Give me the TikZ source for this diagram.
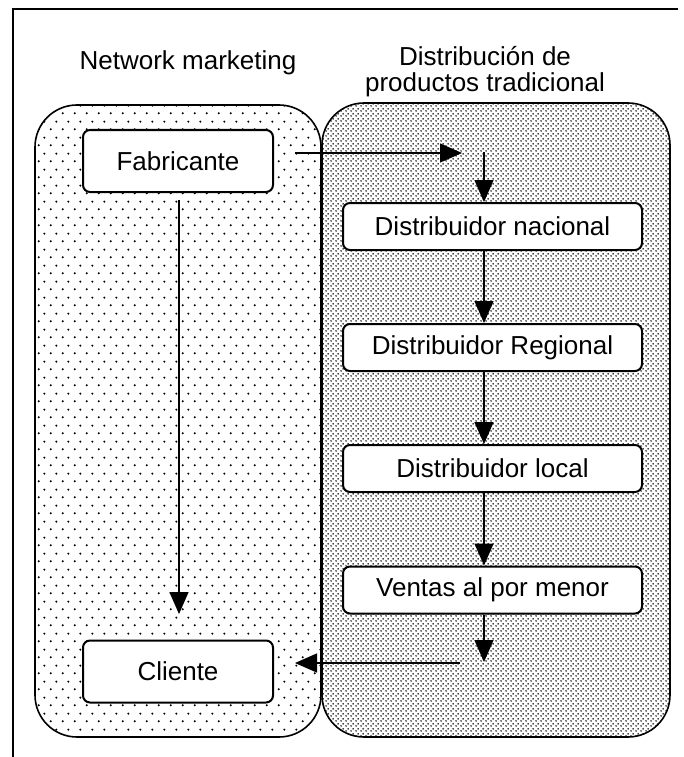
\documentclass[tikz,border=0pt]{standalone}
\usepackage{fontspec}
\setmainfont{Liberation Sans}
\usetikzlibrary{arrows.meta,patterns.meta}
\tikzdeclarepattern{
  name=sparsedots,
  type=uncolored,
  bounding box={(0pt,0pt) and (12pt,16pt)},
  tile size={(12pt,16pt)},
  code={\fill (3pt,4pt) circle (1.2pt); \fill (9pt,12pt) circle (1.2pt);}
}
\tikzdeclarepattern{
  name=densedots,
  type=uncolored,
  bounding box={(0pt,0pt) and (5pt,5pt)},
  tile size={(5pt,5pt)},
  code={\fill (1.25pt,1.25pt) circle (1pt); \fill (3.75pt,3.75pt) circle (1pt);}
}
\tikzset{
  region/.style={draw=black, line width=1.6pt, rounded corners=42pt, preaction={fill=white}},
  boxnode/.style={draw=black, fill=white, line width=2pt, rounded corners=7pt, inner sep=0pt,
    font=\fontsize{26}{30}\selectfont},
  titlenode/.style={font=\fontsize{26}{30}\selectfont, inner sep=0pt, anchor=base},
  arr/.style={line width=1.5pt, -{Triangle[length=22pt,width=19pt]}},
}
\begin{document}
\begin{tikzpicture}[x=1pt,y=-1pt]
\useasboundingbox (0,0) rectangle (684,757);
% frame
\draw[line width=1.5pt] (13,757) -- (13,9) -- (678,9);
% titles
\node[titlenode] (t1) at (188,70) {Network marketing};
\node[titlenode] (t2a) at (485,66) {Distribución de};
\node[titlenode] (t2b) at (485,92) {productos tradicional};
% regions
\draw[region, pattern=sparsedots] (35,105) rectangle (321,737);
\draw[region, pattern=densedots] (322,103) rectangle (670,737);
% boxes
\node[boxnode, minimum width=190pt, minimum height=62pt] (fab) at (178,161) {Fabricante};
\node[boxnode, minimum width=190pt, minimum height=62pt] (cli) at (178,671.5) {Cliente};
\node[boxnode, minimum width=299pt, minimum height=47pt] (nac) at (492.5,226.5) {Distribuidor nacional};
\node[boxnode, minimum width=299pt, minimum height=47pt] (reg) at (492.5,347.5) {Distribuidor Regional};
\node[boxnode, minimum width=299pt, minimum height=47pt] (loc) at (492.5,468.5) {Distribuidor local};
\node[boxnode, minimum width=299pt, minimum height=47pt] (ven) at (492.5,590) {Ventas al por menor};
% connector coordinates
\coordinate (h1s) at (295,153);
\coordinate (h1e) at (462,153);
\coordinate (v0) at (484,152);
\coordinate (vend) at (484,662);
\coordinate (h2s) at (460,663);
\coordinate (h2e) at (295,663);
\coordinate (l0) at (179,200);
\coordinate (l1) at (179,614);
% arrows
\draw[arr] (h1s) -- (h1e);
\draw[arr] (v0) -- (v0 |- nac.north);
\draw[arr] (v0 |- nac.south) -- (v0 |- reg.north);
\draw[arr] (v0 |- reg.south) -- (v0 |- loc.north);
\draw[arr] (v0 |- loc.south) -- (v0 |- ven.north);
\draw[arr] (v0 |- ven.south) -- (vend);
\draw[arr] (h2s) -- (h2e);
\draw[arr] (l0) -- (l1);
\end{tikzpicture}
\end{document}
